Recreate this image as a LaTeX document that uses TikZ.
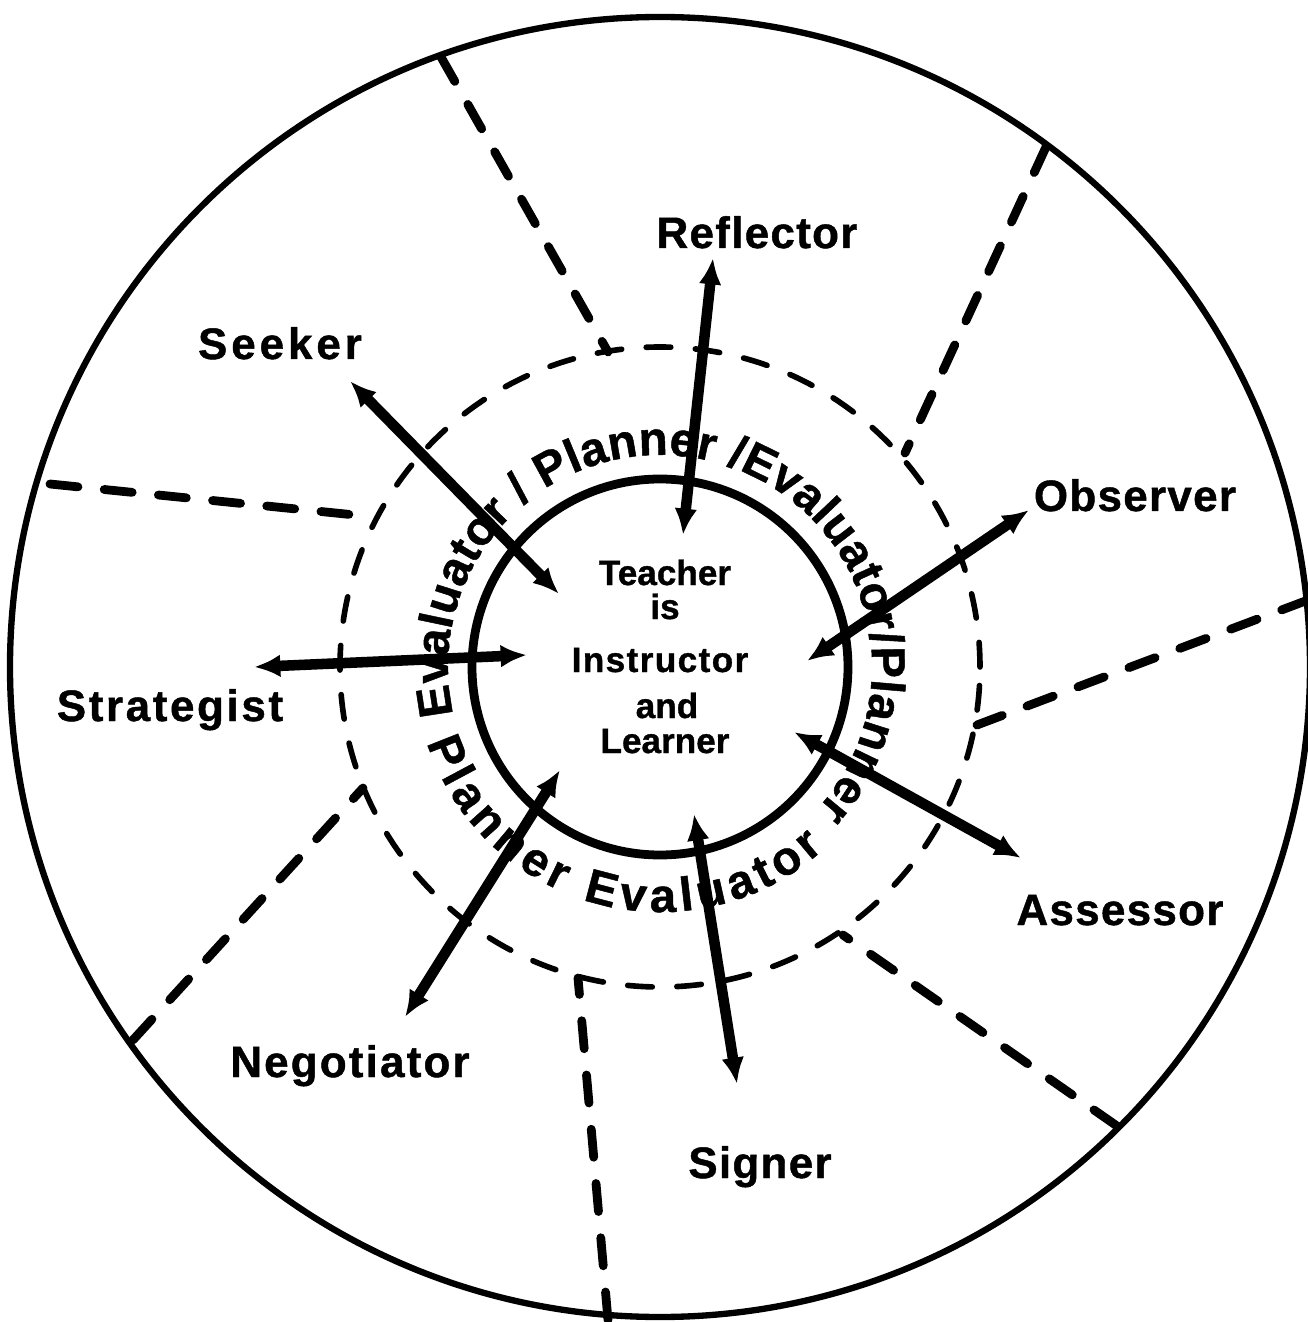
\documentclass[tikz,border=0pt]{standalone}
\usepackage{fontspec}
\setmainfont{Liberation Sans}
\usetikzlibrary{arrows.meta,decorations.text}
\begin{document}
\begin{tikzpicture}[x=0.02cm,y=0.02cm,
  role/.style={inner sep=0pt, anchor=base, font=\fontsize{25}{30}\selectfont\bfseries\addfontfeature{LetterSpace=#1,FakeBold=1}},
  role/.default=3,
  core/.style={inner sep=0pt, anchor=base, font=\fontsize{20}{24}\selectfont\bfseries\addfontfeature{LetterSpace=#1,FakeBold=1}},
  core/.default=0,
  link/.style={line width=6pt, {Latex[length=15pt,width=13pt]}-{Latex[length=15pt,width=13pt]}},
  spoke/.style={line width=5pt, line cap=round, dash pattern=on 16pt off 15pt},
  ring/.style={line width=3.2pt, line cap=round, dash pattern=on 14pt off 14pt},
  ringtext/.style={decorate, decoration={text along path, text align={fit to path}, text={|\fontsize{27}{27}\selectfont\bfseries\addfontfeature{FakeBold=1}|#1}}},
]
\useasboundingbox (-660,-655) rectangle (648,667);
\fill[white] (-660,-655) rectangle (648,667);
\coordinate (O) at (0,0);

% circles
\draw[line width=3.6pt] (O) circle[radius=650];
\draw[ring] (O) circle[radius=320];
\draw[line width=5pt] (O) circle[radius=188];

% spokes
\coordinate (i1) at (-52,315);   \coordinate (o1) at (-219,610);
\coordinate (i2) at (245,214);   \coordinate (o2) at (386,520);
\coordinate (i3) at (-295,151);  \coordinate (o3) at (-610,183);
\coordinate (i4) at (317,-58);   \coordinate (o4) at (648,67);
\coordinate (i5) at (-297,-121); \coordinate (o5) at (-527,-373);
\coordinate (i6) at (183,-268);  \coordinate (o6) at (457,-459);
\coordinate (i7) at (-82,-311);  \coordinate (o7) at (-52,-653);
\foreach \s in {1,...,7} \draw[spoke] (o\s) -- (i\s);

% ring text
\path[ringtext={Evaluator / Planner /Evaluator/Planner}]
  (193:212) arc[start angle=193, end angle=-42, radius=212];
\path[ringtext={Planner Evaluator}]
  (-162:245) arc[start angle=-162, end angle=-48, radius=245];

% centre text
\node[core] (teacher) at (5,82) {Teacher};
\node[core] (is) at (5,48) {is};
\node[core=4] (instructor) at (0,-5) {Instructor};
\node[core] (and) at (7,-51) {and};
\node[core] (learner) at (5,-86) {Learner};

% role labels
\node[role] (reflector) at (97,419) {Reflector};
\node[role=9] (seeker) at (-380,308) {Seeker};
\node[role] (observer) at (475,156) {Observer};
\node[role=6] (strategist) at (-490,-54) {Strategist};
\node[role] (assessor) at (460,-258) {Assessor};
\node[role=5] (negotiator) at (-310,-410) {Negotiator};
\node[role] (signer) at (100,-511) {Signer};

% arrows
\coordinate (rfo) at (53,409);   \coordinate (rfi) at (23,132);
\coordinate (sko) at (-310,286); \coordinate (ski) at (-101,73);
\coordinate (obo) at (369,157);  \coordinate (obi) at (147,6);
\coordinate (sto) at (-406,0);   \coordinate (sti) at (-133,12);
\coordinate (aso) at (361,-191); \coordinate (asi) at (134,-65);
\coordinate (ngo) at (-255,-350);\coordinate (ngi) at (-100,-103);
\coordinate (sgo) at (77,-417);  \coordinate (sgi) at (34,-147);
\draw[link] (rfi) -- (rfo);
\draw[link] (ski) -- (sko);
\draw[link] (obi) -- (obo);
\draw[link] (sti) -- (sto);
\draw[link] (asi) -- (aso);
\draw[link] (ngi) -- (ngo);
\draw[link] (sgi) -- (sgo);
\end{tikzpicture}
\end{document}
